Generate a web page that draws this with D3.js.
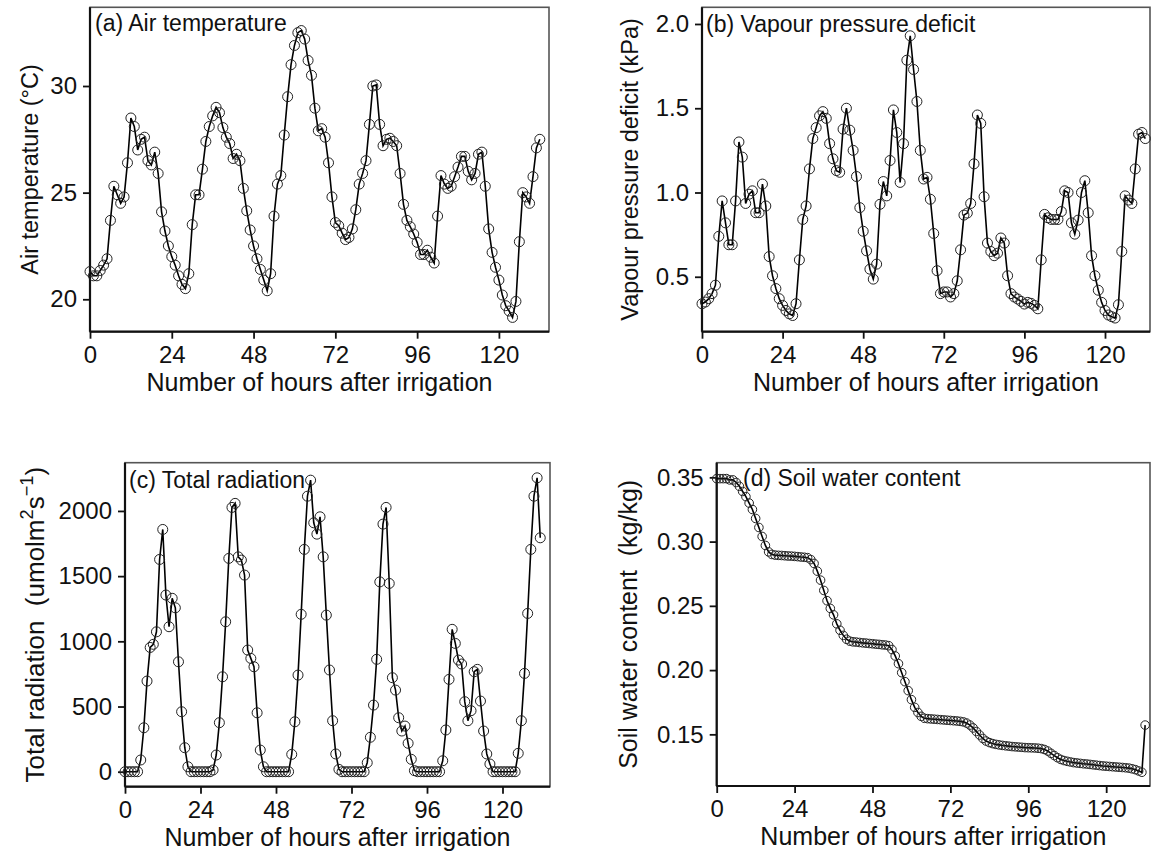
<!DOCTYPE html>
<html><head><meta charset="utf-8">
<script src="https://cdn.jsdelivr.net/npm/d3@7"></script>
<style>
body{margin:0;background:#fff}
svg{display:block}
text{font-family:"Liberation Sans",Arial,Helvetica,sans-serif;fill:#111}
</style>
</head><body>
<svg id="chart" width="1153" height="859"></svg>
<script>
// ---------------- data (hourly, hour 0 .. 132) ----------------
const airTemp = [21.3,21.1,21.1,21.35,21.6,21.9,23.7,25.3,24.9,24.5,
24.8,26.4,28.5,28.1,27.0,27.5,27.6,26.5,26.3,26.9,
25.9,24.1,23.2,22.5,22.0,21.6,21.1,20.7,20.5,21.2,
23.5,24.9,24.9,26.1,27.4,28.1,28.6,29.0,28.75,28.05,
27.6,27.3,26.6,26.8,26.5,25.2,24.15,23.25,22.5,21.9,
21.4,20.9,20.4,21.2,23.9,25.4,25.8,27.7,29.5,31.0,
31.9,32.5,32.6,32.2,31.2,30.5,28.96,27.9,28.0,27.6,
26.4,24.8,23.6,23.45,23.1,22.8,22.9,23.3,24.2,25.4,
25.9,26.5,28.2,30.0,30.05,28.2,27.2,27.5,27.55,27.4,
27.2,25.9,24.45,23.7,23.4,23.06,22.67,22.1,22.1,22.3,
21.97,21.7,23.9,25.8,25.4,25.2,25.3,25.75,26.2,26.7,
26.7,26.0,25.6,25.9,26.8,26.9,25.3,23.3,22.2,21.5,
20.9,20.2,19.7,19.45,19.15,19.9,22.7,25.0,24.8,24.5,
25.75,27.1,27.5];

const vpd = [0.34,0.35,0.37,0.40,0.45,0.74,0.95,0.82,0.69,0.69,
0.95,1.30,1.21,0.935,0.99,1.01,0.88,0.88,1.05,0.92,
0.62,0.506,0.43,0.37,0.33,0.30,0.28,0.27,0.34,0.60,
0.84,0.92,1.14,1.32,1.385,1.455,1.48,1.44,1.29,1.2,
1.13,1.12,1.376,1.5,1.37,1.25,1.095,0.91,0.77,0.654,
0.545,0.486,0.575,0.93,1.065,0.98,1.19,1.49,1.356,1.06,
1.29,1.785,1.93,1.73,1.54,1.25,1.08,1.09,0.96,0.757,
0.536,0.40,0.41,0.41,0.38,0.40,0.476,0.66,0.866,0.878,
0.935,1.17,1.46,1.41,0.975,0.70,0.65,0.625,0.64,0.73,
0.70,0.506,0.40,0.38,0.368,0.354,0.338,0.348,0.342,0.33,
0.31,0.60,0.87,0.85,0.84,0.84,0.84,0.887,1.01,1.0,
0.82,0.753,0.836,1.0,1.07,0.88,0.625,0.506,0.42,0.348,
0.30,0.273,0.263,0.255,0.334,0.65,0.98,0.955,0.935,1.14,
1.346,1.356,1.32];

const radiation = [0,0,0,0,0,90,337,695,953,977,
1073,1628,1858,1355,1112,1330,1257,843,460,184,
38,0,0,0,0,0,0,0,13,128,
376,728,1150,1636,2027,2058,1648,1623,1508,933,
869,805,452,166,38,0,0,0,0,0,
0,0,0,133,383,741,1207,1705,2113,2236,
1909,1822,1955,1648,1201,780,391,136,18,0,
0,0,0,0,0,0,0,69,264,511,
862,1456,1899,2027,1444,721,626,414,312,350,
218,95,8,0,0,0,0,0,0,0,
0,84,320,708,1092,984,856,826,537,391,
468,767,785,542,312,136,59,0,0,0,
0,0,0,0,0,141,391,754,1214,1705,
2113,2254,1794];

const soilWater = [0.349,0.349,0.349,0.349,0.348,0.348,0.346,0.343,0.339,0.335,
0.330,0.325,0.318,0.311,0.304,0.297,0.292,0.290,0.2895,0.2893,
0.2892,0.289,0.2888,0.2887,0.2885,0.2883,0.288,0.2878,0.2875,0.286,
0.283,0.277,0.270,0.262,0.254,0.248,0.243,0.236,0.231,0.227,
0.224,0.2225,0.222,0.2218,0.2215,0.2212,0.221,0.2207,0.2205,0.2202,
0.220,0.2197,0.2195,0.219,0.216,0.211,0.205,0.198,0.191,0.184,
0.177,0.171,0.167,0.164,0.1625,0.1622,0.162,0.1618,0.1616,0.1614,
0.1612,0.161,0.1608,0.1606,0.1604,0.1601,0.1597,0.1588,0.1572,0.155,
0.1522,0.1495,0.1468,0.1448,0.1436,0.1428,0.1422,0.1418,0.1414,0.1411,
0.1408,0.1405,0.1403,0.1401,0.1399,0.1397,0.1396,0.1395,0.1394,0.1392,
0.1389,0.1382,0.137,0.1352,0.1335,0.1318,0.1305,0.1296,0.129,0.1285,
0.128,0.1277,0.1274,0.1271,0.1269,0.1266,0.1263,0.126,0.1257,0.1254,
0.1252,0.125,0.1248,0.1246,0.1244,0.1242,0.124,0.1237,0.1232,0.1225,
0.1215,0.1205,0.1572];

const hourTicks = [0,24,48,72,96,120];
const airTicks = [20,25,30];
const vpdTicks = [0.5,1.0,1.5,2.0];
const radTicks = [0,500,1000,1500,2000];
const swcTicks = [0.15,0.20,0.25,0.30,0.35];
const xTitle = "Number of hours after irrigation";

// ---------------- layout ----------------
const svg = d3.select("#chart");
const panels = [
  {values: airTemp, ticks: airTicks, fmt: d3.format("d"), title: "(a) Air temperature",
   box: {l: 90, r: 549, t: 7.3, b: 331.7}, xMax: 134.7, yDom: [18.48, 33.69],
   titleX: 95, titleY: 31, ylabX: 38, ylabSize: 23.5, r: 5,
   ylab: [["Air temperature (°C)", 0]]},
  {values: vpd, ticks: vpdTicks, fmt: d3.format(".1f"), title: "(b) Vapour pressure deficit",
   box: {l: 702, r: 1150, t: 7.3, b: 331.7}, xMax: 133.4, yDom: [0.174, 2.099],
   titleX: 706, titleY: 32, ylabX: 638, ylabSize: 23.5, r: 5,
   ylab: [["Vapour pressure deficit (kPa)", 0]]},
  {values: radiation, ticks: radTicks, fmt: d3.format("d"), title: "(c) Total radiation",
   box: {l: 125, r: 550, t: 462.7, b: 786.7}, xMax: 135.1, yDom: [-115, 2370],
   titleX: 129, titleY: 488, ylabX: 44, ylabSize: 26, r: 5,
   ylab: [["Total radiation\u00a0\u00a0(umolm", 0], ["2", -1], ["s", 0], ["\u22121", -1], [")", 0]]},
  {values: soilWater, ticks: swcTicks, fmt: d3.format(".2f"), title: "(d) Soil water content",
   box: {l: 716.7, r: 1150, t: 462.7, b: 786}, xMax: 133.5, yDom: [0.1098, 0.3614],
   titleX: 743, titleY: 486, ylabX: 637, ylabSize: 25, r: 4.3,
   ylab: [["Soil water content\u00a0\u00a0(kg/kg)", 0]]}
];

panels.forEach(p => {
  const b = p.box;
  const x = d3.scaleLinear().domain([0, p.xMax]).range([b.l, b.r]);
  const y = d3.scaleLinear().domain(p.yDom).range([b.b, b.t]);
  const g = svg.append("g");

  // frame
  g.append("rect").attr("x", b.l).attr("y", b.t)
    .attr("width", b.r - b.l).attr("height", b.b - b.t)
    .attr("fill", "none").attr("stroke", "#555").attr("stroke-width", 1.6);

  // axes
  const xAxis = d3.axisBottom(x).tickValues(hourTicks).tickSize(7).tickPadding(7);
  const xg = g.append("g").attr("transform", `translate(0,${b.b})`).call(xAxis);
  const yAxis = d3.axisLeft(y).tickValues(p.ticks).tickFormat(p.fmt).tickSize(7).tickPadding(6);
  const yg = g.append("g").attr("transform", `translate(${b.l},0)`).call(yAxis);
  [xg, yg].forEach(a => {
    a.select(".domain").remove();
    a.selectAll(".tick line").attr("stroke", "#111").attr("stroke-width", 1.8);
    a.selectAll(".tick text").attr("font-size", 24).attr("fill", "#111")
      .style("font-family", '"Liberation Sans",Arial,sans-serif');
  });
  g.append("line").attr("x1", b.l).attr("x2", b.r).attr("y1", b.b).attr("y2", b.b)
    .attr("stroke", "#111").attr("stroke-width", 2.2);
  g.append("line").attr("x1", b.l).attr("x2", b.l).attr("y1", b.t).attr("y2", b.b)
    .attr("stroke", "#111").attr("stroke-width", 2.2);

  // line + circles
  const line = d3.line().x((d, i) => x(i)).y(d => y(d));
  g.append("path").datum(p.values).attr("d", line)
    .attr("fill", "none").attr("stroke", "#000").attr("stroke-width", 1.6);
  g.selectAll("circle").data(p.values).join("circle")
    .attr("cx", (d, i) => x(i)).attr("cy", d => y(d)).attr("r", p.r)
    .attr("fill", "none").attr("stroke", "#222").attr("stroke-width", 1);

  // panel title
  g.append("text").attr("x", p.titleX).attr("y", p.titleY)
    .attr("font-size", 23).text(p.title);

  // x title
  g.append("text").attr("x", (b.l + b.r) / 2).attr("y", b.b + 59)
    .attr("text-anchor", "middle").attr("font-size", 25).text(xTitle);

  // y title
  const fs = p.ylabSize;
  const yt = g.append("text")
    .attr("transform", `translate(${p.ylabX},${(b.t + b.b) / 2}) rotate(-90)`)
    .attr("text-anchor", "middle").attr("font-size", fs);
  let prev = 0;
  p.ylab.forEach(([s, sup]) => {
    const shift = sup ? -0.42 * fs : 0;
    yt.append("tspan").attr("dy", shift - prev)
      .attr("font-size", sup ? 0.7 * fs : fs).text(s);
    prev = shift;
  });
});
</script>
</body></html>
